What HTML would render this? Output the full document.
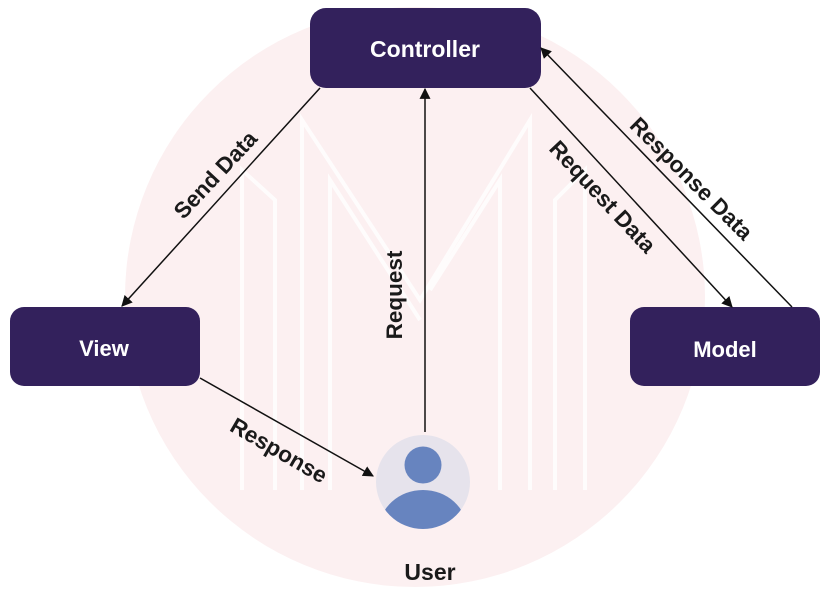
<!DOCTYPE html>
<html><head><style>
body{margin:0;background:#fff;}
svg{display:block;font-family:"Liberation Sans",Arial,sans-serif;font-weight:bold;}
</style></head><body>
<svg width="828" height="592" viewBox="0 0 828 592" xmlns="http://www.w3.org/2000/svg">
<defs><marker id="a" viewBox="0 0 10 10" refX="9" refY="5" markerWidth="11" markerHeight="11" markerUnits="userSpaceOnUse" orient="auto"><path d="M0,0 L10,5 L0,10 z" fill="#111"/></marker></defs>
<circle cx="415" cy="297" r="290" fill="#fcf0f1"/>
<g fill="none" stroke="#fff" stroke-width="4" opacity="0.8">
<path d="M242,490 V170 L275,200 V490"/>
<path d="M302,490 V120 L420,300 L530,120 V490"/>
<path d="M330,490 V180 L420,320"/>
<path d="M500,490 V180 L430,290"/>
<path d="M555,490 V200 L585,170 V490"/>
</g>
<rect x="310" y="8" width="231" height="80" rx="16" fill="#33215c"/>
<rect x="10" y="307" width="190" height="79" rx="14" fill="#33215c"/>
<rect x="630" y="307" width="190" height="79" rx="14" fill="#33215c"/>
<text x="425" y="57" fill="#fff" font-size="23" text-anchor="middle">Controller</text>
<text x="104" y="356" fill="#fff" font-size="22" text-anchor="middle">View</text>
<text x="725" y="357" fill="#fff" font-size="22" text-anchor="middle">Model</text>
<g stroke="#111" stroke-width="1.5" marker-end="url(#a)">
<line x1="320" y1="88" x2="122" y2="306"/>
<line x1="425" y1="432" x2="425" y2="89"/>
<line x1="530" y1="88" x2="732" y2="307"/>
<line x1="792" y1="307" x2="541" y2="48"/>
<line x1="200" y1="378" x2="373" y2="476"/>
</g>
<circle cx="423" cy="482" r="47" fill="#e6e3ec"/>
<clipPath id="c"><circle cx="423" cy="482" r="47"/></clipPath>
<circle cx="423" cy="465" r="18.5" fill="#6784bf"/>
<ellipse cx="423" cy="530" rx="44" ry="40" fill="#6784bf" clip-path="url(#c)"/>
<text x="430" y="580" fill="#1a1a1a" font-size="23" text-anchor="middle">User</text>
<g fill="#1a1a1a" font-size="22.5" text-anchor="middle">
<text transform="translate(221,180) rotate(-47)">Send Data</text>
<text transform="translate(402,295) rotate(-90)">Request</text>
<text transform="translate(597,202) rotate(47)">Request Data</text>
<text transform="translate(686,184) rotate(45)">Response Data</text>
<text transform="translate(275,457) rotate(30)">Response</text>
</g>
</svg>
</body></html>
